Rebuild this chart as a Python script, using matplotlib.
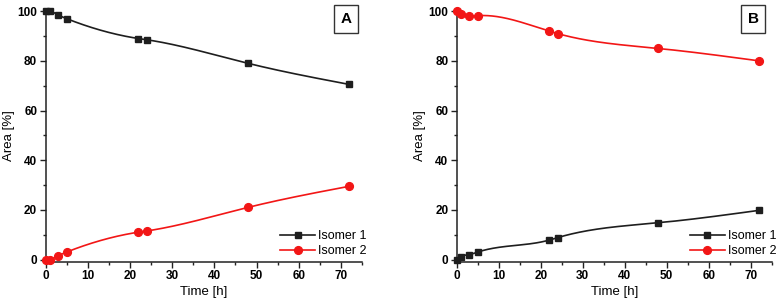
import numpy as np
import matplotlib
matplotlib.use("Agg")
import matplotlib.pyplot as plt
from matplotlib.ticker import MultipleLocator

plt.rcParams['font.family'] = ['Liberation Sans', 'DejaVu Sans']

time_h = [0, 1, 3, 5, 22, 24, 48, 72]
a_isomer1 = [100, 100, 98.5, 97, 89, 88.5, 79, 70.5]
a_isomer2 = [0, 0, 1.5, 3, 11, 11.5, 21, 29.5]
b_isomer1 = [0, 1.2, 2, 3, 7.8, 8.8, 14.8, 19.8]
b_isomer2 = [100, 98.8, 98, 98.2, 92, 91, 85, 80]
panel_labels = ["A", "B"]
series_names = ["Isomer 1", "Isomer 2"]
x_ticks = [0, 10, 20, 30, 40, 50, 60, 70]
y_ticks = [0, 20, 40, 60, 80, 100]


def natural_spline(x, y, n=400):
    x = np.asarray(x, float); y = np.asarray(y, float)
    k = len(x)
    h = np.diff(x)
    A = np.zeros((k, k)); r = np.zeros(k)
    A[0, 0] = 1; A[-1, -1] = 1
    for i in range(1, k - 1):
        A[i, i - 1] = h[i - 1]
        A[i, i] = 2 * (h[i - 1] + h[i])
        A[i, i + 1] = h[i]
        r[i] = 6 * ((y[i + 1] - y[i]) / h[i] - (y[i] - y[i - 1]) / h[i - 1])
    M = np.linalg.solve(A, r)
    xs = np.linspace(x[0], x[-1], n)
    idx = np.clip(np.searchsorted(x, xs) - 1, 0, k - 2)
    x0 = x[idx]; x1 = x[idx + 1]; hh = x1 - x0
    t0 = x1 - xs; t1 = xs - x0
    ys = (M[idx] * t0 ** 3 / (6 * hh) + M[idx + 1] * t1 ** 3 / (6 * hh)
          + (y[idx] / hh - M[idx] * hh / 6) * t0
          + (y[idx + 1] / hh - M[idx + 1] * hh / 6) * t1)
    return xs, ys


BLACK = '#1e1e1e'
RED = '#f21616'
SQ_MS = 5.0
CI_MS = 5.6

fig = plt.figure(figsize=(7.81, 3.02), dpi=100)
axA = fig.add_axes([0.0583, 0.1325, 0.4053, 0.8345])
axB = fig.add_axes([0.5848, 0.1325, 0.4033, 0.8345])

panels = [(axA, a_isomer1, a_isomer2, panel_labels[0], 0.949),
          (axB, b_isomer1, b_isomer2, panel_labels[1], 0.941)]
for ax, s1, s2, lab, lx in panels:
    for data, col, mk, name in [(s1, BLACK, 's', series_names[0]), (s2, RED, 'o', series_names[1])]:
        ms = SQ_MS if mk == 's' else CI_MS
        xs, ys = natural_spline(time_h, data)
        ax.plot(xs, ys, color=col, lw=1.2, clip_on=False)
        ax.plot(time_h, data, ls='none', marker=mk, color=col, ms=ms,
                clip_on=False, zorder=3)
        ax.plot([], [], color=col, lw=1.2, marker=mk, ms=ms, label=name)
    ax.set_xlim(0, 75)
    ax.set_ylim(-1, 100.5)
    ax.set_xticks(x_ticks)
    ax.set_yticks(y_ticks)
    ax.xaxis.set_minor_locator(MultipleLocator(5))
    ax.yaxis.set_minor_locator(MultipleLocator(10))
    for sp in ['top', 'right']:
        ax.spines[sp].set_visible(False)
    for sp in ['left', 'bottom']:
        ax.spines[sp].set_linewidth(1.1)
        ax.spines[sp].set_color('#222222')
    ax.tick_params(which='major', direction='out', length=4, width=1.0, color='#222222',
                   labelsize=8.5, pad=2)
    ax.tick_params(which='minor', direction='out', length=2.5, width=1.0, color='#222222')
    for t in ax.get_xticklabels() + ax.get_yticklabels():
        t.set_fontweight('bold')
    ax.set_xlabel('Time [h]', fontsize=9.5, labelpad=3)
    ax.set_ylabel('Area [%]', fontsize=9.5, labelpad=2)
    leg = ax.legend(loc='lower right', bbox_to_anchor=(1.015, 0.018), frameon=False,
                    fontsize=9, handlelength=2.8, handletextpad=0.25, labelspacing=0.25,
                    borderpad=0, borderaxespad=0)
    ax.text(lx, 0.965, lab, transform=ax.transAxes, ha='center', va='center',
            fontsize=11, fontweight='bold',
            bbox=dict(boxstyle='square,pad=0.45', fc='white', ec='#333333', lw=1.0))

fig.savefig('out.png', dpi=100)
